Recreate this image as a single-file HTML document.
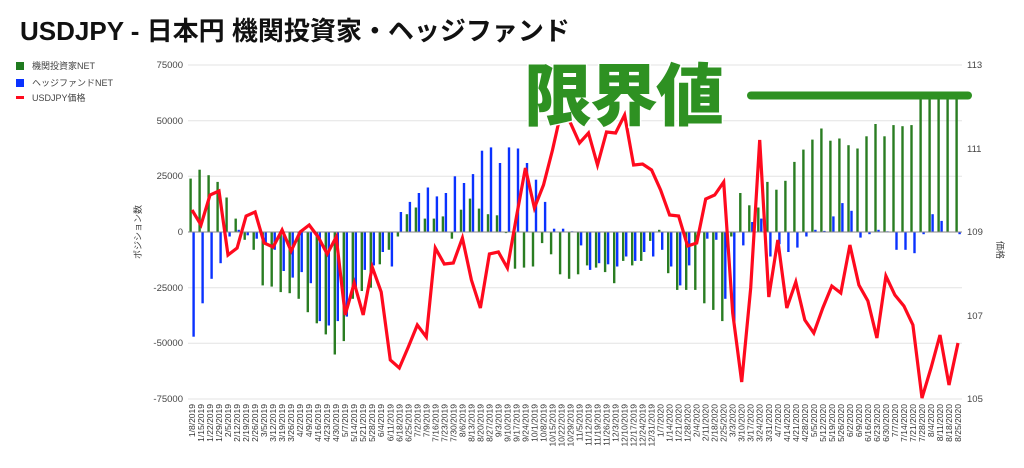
<!DOCTYPE html>
<html><head><meta charset="utf-8"><style>
html,body{margin:0;padding:0;background:#fff;}
svg{display:block;font-family:"Liberation Sans","Noto Sans CJK JP",sans-serif;}
</style></head><body>
<svg id="s" width="1024" height="468" viewBox="0 0 1024 468">
<text x="20" y="40" font-size="26" font-weight="bold" fill="#111">USDJPY - 日本円 機関投資家・ヘッジファンド</text>
<rect x="16" y="62" width="8" height="8" fill="#1f7a1f"/>
<text x="32" y="69" font-size="9" fill="#444">機関投資家NET</text>
<rect x="16" y="79" width="8" height="8" fill="#0a32ff"/>
<text x="32" y="86" font-size="9" fill="#444">ヘッジファンドNET</text>
<rect x="16" y="96" width="8" height="3" fill="#ff0a1e"/>
<text x="32" y="101" font-size="9" fill="#444">USDJPY価格</text>
<g stroke="#e3e3e3" stroke-width="1">
<line x1="188" x2="962" y1="65" y2="65"/><line x1="188" x2="962" y1="120.7" y2="120.7"/>
<line x1="188" x2="962" y1="176.3" y2="176.3"/><line x1="188" x2="962" y1="287.7" y2="287.7"/>
<line x1="188" x2="962" y1="343.3" y2="343.3"/><line x1="188" x2="962" y1="399" y2="399"/>
</g>
<g font-size="9.5" fill="#444" text-anchor="end">
<text x="183" y="68">75000</text><text x="183" y="124">50000</text><text x="183" y="179">25000</text>
<text x="183" y="235">0</text><text x="183" y="291">-25000</text><text x="183" y="346">-50000</text><text x="183" y="402">-75000</text>
</g>
<g font-size="9.5" fill="#444">
<text x="967" y="68">113</text><text x="967" y="152">111</text><text x="967" y="235">109</text>
<text x="967" y="319">107</text><text x="967" y="402">105</text>
</g>
<text transform="translate(141,232) rotate(-90)" font-size="9" fill="#444" text-anchor="middle">ポジション数</text>
<text transform="translate(997,250) rotate(90)" font-size="9" fill="#444" text-anchor="middle">価格</text>
<g id="bars"></g>
<line x1="188" x2="962" y1="232" y2="232" stroke="#888" stroke-width="1"/>
<polyline id="price" fill="none" stroke="#ff0a1e" stroke-width="3.2" stroke-linejoin="miter"/>
<text x="524" y="120" font-size="68" font-weight="900" fill="#2e9122" stroke="#fff" stroke-width="3" paint-order="stroke" font-family="'Noto Sans CJK JP',sans-serif" letter-spacing="-2">限界値</text>
<line x1="751" x2="968" y1="95.5" y2="95.5" stroke="#2e9122" stroke-width="8" stroke-linecap="round"/>
<g id="xl" font-size="8.5" fill="#333" text-anchor="end">
<text>1/8/2019</text><text>1/15/2019</text><text>1/22/2019</text><text>1/29/2019</text><text>2/5/2019</text><text>2/12/2019</text><text>2/19/2019</text><text>2/26/2019</text><text>3/5/2019</text><text>3/12/2019</text><text>3/19/2019</text><text>3/26/2019</text><text>4/2/2019</text><text>4/9/2019</text><text>4/16/2019</text><text>4/23/2019</text><text>4/30/2019</text><text>5/7/2019</text><text>5/14/2019</text><text>5/21/2019</text><text>5/28/2019</text><text>6/4/2019</text><text>6/11/2019</text><text>6/18/2019</text><text>6/25/2019</text><text>7/2/2019</text><text>7/9/2019</text><text>7/16/2019</text><text>7/23/2019</text><text>7/30/2019</text><text>8/6/2019</text><text>8/13/2019</text><text>8/20/2019</text><text>8/27/2019</text><text>9/3/2019</text><text>9/10/2019</text><text>9/17/2019</text><text>9/24/2019</text><text>10/1/2019</text><text>10/8/2019</text><text>10/15/2019</text><text>10/22/2019</text><text>10/29/2019</text><text>11/5/2019</text><text>11/12/2019</text><text>11/19/2019</text><text>11/26/2019</text><text>12/3/2019</text><text>12/10/2019</text><text>12/17/2019</text><text>12/24/2019</text><text>12/31/2019</text><text>1/7/2020</text><text>1/14/2020</text><text>1/21/2020</text><text>1/28/2020</text><text>2/4/2020</text><text>2/11/2020</text><text>2/18/2020</text><text>2/25/2020</text><text>3/3/2020</text><text>3/10/2020</text><text>3/17/2020</text><text>3/24/2020</text><text>3/31/2020</text><text>4/7/2020</text><text>4/14/2020</text><text>4/21/2020</text><text>4/28/2020</text><text>5/5/2020</text><text>5/12/2020</text><text>5/19/2020</text><text>5/26/2020</text><text>6/2/2020</text><text>6/9/2020</text><text>6/16/2020</text><text>6/23/2020</text><text>6/30/2020</text><text>7/7/2020</text><text>7/14/2020</text><text>7/21/2020</text><text>7/28/2020</text><text>8/4/2020</text><text>8/11/2020</text><text>8/18/2020</text><text>8/25/2020</text>
</g>
</svg>
<script>
var G=[24,28,25.5,22.5,15.5,6,-3.5,-8,-24,-24.5,-27,-27.5,-30,-36,-41,-46,-55,-49,-30,-26.5,-25,-14.5,-8,-2,8,11,6,6,7,-3,10,15,10.5,8,7.5,-0.5,-16.5,-16,-15.5,-5,-10,-19,-21,-19,-15,-16,-18,-23,-13,-15,-13,-4,1,-18.5,-26,-26,-26,-32,-35,-40,-2,17.5,12,11,22.5,19,23,31.5,37,41.5,46.5,41,42,39,37.5,43,48.5,43,48,47.5,48,62,62,62,62,62];
var B=[-47,-32,-21,-14,-2,1,-1.5,-3,-5,-8,-17.5,-20.5,-18,-23,-40,-42,-40,-38,-25,-17,-15,-9,-15.5,9,13.5,17.5,20,16,17.5,25,22,26,36.5,38,31,38,37.5,31,23.5,13.5,1.5,1.5,0.3,-6,-17,-14,-14.5,-15.5,-11,-13,-9,-11,-8,-15.5,-24,-15,-1,-3,-3.5,-30,-42,-6,4.5,6,-11,-5.5,-9,-7,-2,1,0.5,7,13,9.5,-2.5,-1,1,0.3,-8,-8,-9.5,-1,8,5,0,-1];
var P=[210,225,195,191,255,248,216,212,243,247,230,251,232,225,237,254,237,315,283,315,267,292,360,368,347,325,337,248,264,263,238,280,308,254,252,268,217,168,208,185,150,110,123,143,133,165,132,133,115,165,164,170,190,215,216,246,243,199,195,182,313,382,288,140,297,240,308,282,320,333,308,286,293,245,285,301,338,276,295,306,325,398,368,335,385,343];
var x0=192, dx=(958-192)/85, k=167/75000*1000, h='';
function bar(x,v,c){var y=232-v*k;var t=Math.min(y,232),hh=Math.abs(232-y);return '<rect x="'+x.toFixed(1)+'" y="'+t.toFixed(1)+'" width="2.4" height="'+hh.toFixed(1)+'" fill="'+c+'"/>';}
var pts=[];
for(var i=0;i<86;i++){var c=x0+dx*i;h+=bar(c-2.6,G[i],'#2a7d22');h+=bar(c+0.4,B[i],'#0a32ff');pts.push(c.toFixed(1)+','+P[i]);}
document.getElementById('bars').innerHTML=h;
document.getElementById('price').setAttribute('points',pts.join(' '));
var ts=document.querySelectorAll('#xl text');
for(var i=0;i<ts.length;i++){var c=x0+dx*i+3;ts[i].setAttribute('transform','translate('+c.toFixed(1)+',404) rotate(-90)');}
</script>
</body></html>
